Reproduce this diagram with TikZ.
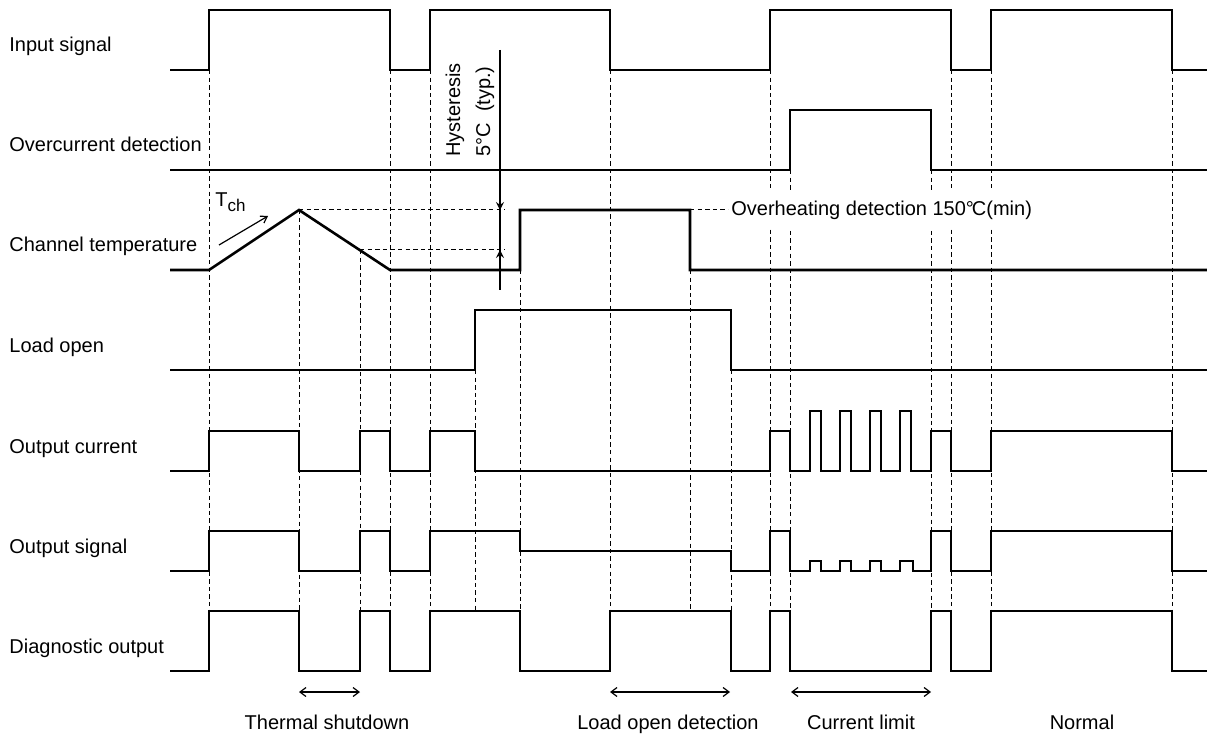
\documentclass[tikz,border=0pt]{standalone}
\usepackage{fontspec}
\setmainfont{Liberation Sans}
\usetikzlibrary{
    arrows.meta,
    positioning,
    calc,
}

\begin{document}
\begin{tikzpicture}[
    x=0.5pt, y=-0.5pt,
    font=\fontsize{10}{12}\selectfont,
    wave/.style={line width=1.3pt, line join=miter},
    guide/.style={line width=0.5pt, dash pattern=on 2.2pt off 1.6pt},
    signame/.style={anchor=base west, inner sep=0pt},
    phase/.style={anchor=base, inner sep=0pt},
    span/.style={{Straight Barb[length=3pt, width=4.5pt]}-{Straight Barb[length=3pt, width=4.5pt]}, line width=0.6pt},
    hyst/.style={-{Stealth[length=4pt, width=4pt, inset=1.5pt]}, line width=0.6pt},
    ]

\useasboundingbox (0,0) rectangle (1207,738);

% timing guides
\draw[guide] (209,70) -- (209,611);
\draw[guide] (299,210) -- (299,611);
\draw[guide] (360,250) -- (360,611);
\draw[guide] (390,70) -- (390,611);
\draw[guide] (430,70) -- (430,611);
\draw[guide] (475,370) -- (475,611);
\draw[guide] (520,270) -- (520,611);
\draw[guide] (610,70) -- (610,611);
\draw[guide] (690,270) -- (690,611);
\draw[guide] (731,370) -- (731,611);
\draw[guide] (770,70) -- (770,611);
\draw[guide] (790,170) -- (790,611);
\draw[guide] (931,170) -- (931,611);
\draw[guide] (951,70) -- (951,611);
\draw[guide] (991,70) -- (991,611);
\draw[guide] (1172,70) -- (1172,611);

% signal names
\node[signame] (lblin) at (9,52) {Input signal};
\node[signame] (lbloc) at (9,152) {Overcurrent detection};
\node[signame] (lbltch) at (9,252) {Channel temperature};
\node[signame] (lblload) at (9,352) {Load open};
\node[signame] (lblcur) at (9,453) {Output current};
\node[signame] (lblout) at (9,553) {Output signal};
\node[signame] (lbldiag) at (9,653) {Diagnostic output};

% waveforms
\draw[wave] (170,70) -| (209,10) -| (390,70) -| (430,10) -| (610,70)
    -| (770,10) -| (951,70) -| (991,10) -| (1172,70) -- (1207,70);

\draw[wave] (170,170) -| (790,110) -| (931,170) -- (1207,170);

\draw[wave] (170,270) -- (209,270) -- (299,210) -- (390,270)
    -| (520,210) -| (690,270) -- (1207,270);

\draw[wave] (170,370) -| (475,310) -| (731,370) -- (1207,370);

\draw[wave] (170,471) -| (209,431) -| (299,471) -| (360,431) -| (390,471)
    -| (430,431) -| (475,471) -| (770,431) -| (790,471)
    -| (810,411) -| (821,471) -| (840,411) -| (851,471)
    -| (870,411) -| (881,471) -| (900,411) -| (911,471)
    -| (931,431) -| (951,471) -| (991,431) -| (1172,471) -- (1207,471);

\draw[wave] (170,571) -| (209,531) -| (299,571) -| (360,531) -| (390,571)
    -| (430,531) -| (520,551) -| (731,571) -| (770,531) -| (790,571)
    -| (810,561) -| (821,571) -| (840,561) -| (851,571)
    -| (870,561) -| (881,571) -| (900,561) -| (913,571)
    -| (931,531) -| (951,571) -| (991,531) -| (1172,571) -- (1207,571);

\draw[wave] (170,671) -| (209,611) -| (299,671) -| (360,611) -| (390,671)
    -| (430,611) -| (520,671) -| (610,611) -| (731,671) -| (770,611)
    -| (790,671) -| (931,611) -| (951,671) -| (991,611) -| (1172,671) -- (1207,671);

% channel temperature marks
\node[anchor=base west, inner sep=0pt] (tch) at (215,207)
    {T\raisebox{-0.45ex}{\fontsize{8.5}{9}\selectfont ch}};
\draw[line width=0.6pt, -{Straight Barb[length=3pt, width=4pt]}] (219,245) -- (268,216);

\draw[guide] (299,210) -- (505,210);
\draw[guide] (360,250) -- (505,250);
\draw[line width=0.6pt] (500,50) -- (500,290);
\draw[hyst] (500,150) -- (500,210);
\draw[hyst] (500,290) -- (500,250);
\node[rotate=90, anchor=west, align=left, inner sep=0pt,
    font=\fontsize{10}{15}\selectfont] (hysttext) at (470,157)
    {Hysteresis\\5°C\ \ (typ.)};

\node[anchor=west, fill=white, inner xsep=1.5pt, inner ysep=5pt] (ovh) at (728,210)
    {Overheating detection 150°\kern-1pt C(min)};
\draw[guide] (690,210) -- (ovh.west);

% protection phases
\draw[span] (299,692) -- (360,692);
\draw[span] (610,692) -- (730,692);
\draw[span] (791,692) -- (931,692);

\node[phase] (thermal) at (327,729) {Thermal shutdown};
\node[phase] (loadopen) at (668,729) {Load open detection};
\node[phase] (curlim) at (861,729) {Current limit};
\node[phase] (normal) at (1082,729) {Normal};

\end{tikzpicture}
\end{document}
